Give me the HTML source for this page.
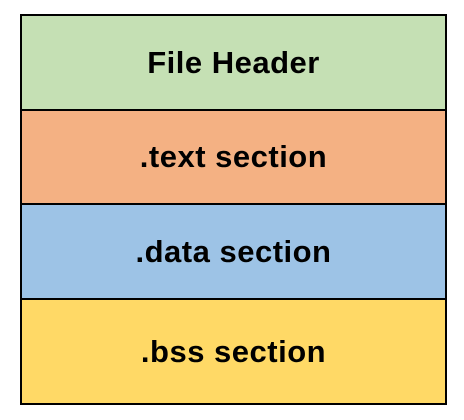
<!DOCTYPE html>
<html><head><style>
body{margin:0;width:464px;height:420px;background:#fff;position:relative;font-family:"Liberation Sans",sans-serif;}
.b{position:absolute;left:20px;width:427px;border:2px solid #000;box-sizing:border-box;display:flex;align-items:center;justify-content:center;font-weight:bold;font-size:31px;letter-spacing:0.5px;color:#000;}
</style></head><body>
<div class="b" style="top:14px;height:97px;background:#c5e0b4;">File Header</div>
<div class="b" style="top:109px;height:96px;background:#f4b183;">.text section</div>
<div class="b" style="top:203px;height:97px;background:#9dc3e6;">.data section</div>
<div class="b" style="top:298px;height:107px;background:#ffd966;">.bss section</div>
</body></html>
